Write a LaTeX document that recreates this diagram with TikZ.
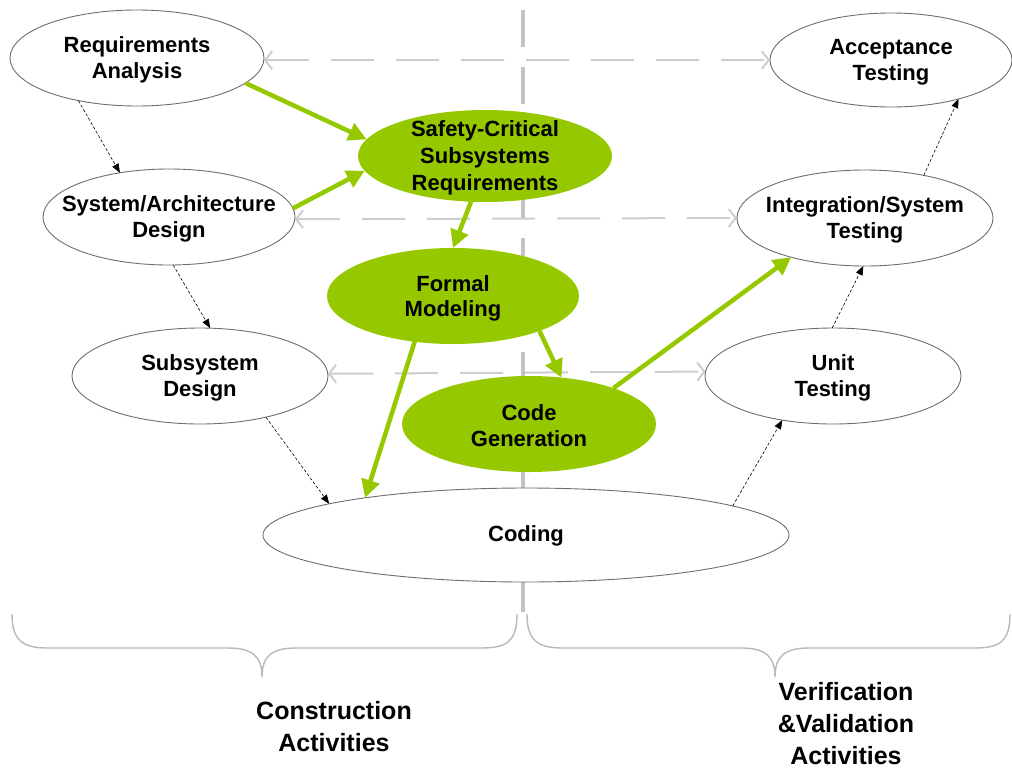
\documentclass[tikz,border=0pt]{standalone}
\usepackage{fontspec}
\setmainfont{Liberation Sans}
\usetikzlibrary{arrows.meta,shapes.geometric}
\definecolor{lgreen}{RGB}{150,200,0}
\definecolor{vgray}{RGB}{195,195,195}
\definecolor{hgray}{RGB}{205,205,205}
\definecolor{egray}{RGB}{110,110,110}
\definecolor{bgray}{RGB}{185,185,185}
\pgfdeclarelayer{bg}
\pgfsetlayers{bg,main}
\begin{document}
\begin{tikzpicture}[x=1pt,y=-1pt,
  wnode/.style={ellipse, draw=egray, line width=0.9pt, fill=white, inner sep=0pt, outer sep=0pt},
  gnode/.style={ellipse, fill=lgreen, inner sep=0pt, outer sep=0pt},
  lab/.style={font=\fontsize{22}{26}\selectfont\bfseries, align=center, text=black, inner sep=0pt},
  glab/.style={lab, font=\fontsize{22}{27}\selectfont\bfseries},
  flab/.style={lab, font=\fontsize{22}{25}\selectfont\bfseries},
  biglab/.style={font=\fontsize{25}{32}\selectfont\bfseries, align=center, inner sep=0pt},
  garrow/.style={draw=lgreen, line width=4.5pt, -{Triangle[length=18pt,width=18pt]}},
  darrow/.style={draw=black, line width=0.6pt, dash pattern=on 3pt off 2pt, -{Triangle[length=9pt,width=7pt]}},
  harrow/.style={draw=hgray, line width=2pt, dash pattern=on 43pt off 22pt, {Straight Barb[length=7pt,width=18pt]}-{Straight Barb[length=7pt,width=18pt]}},
  divline/.style={draw=vgray, line width=4pt, dash pattern=on 37pt off 20pt},
  bracel/.style={draw=bgray, line width=1.4pt}
]
\useasboundingbox (0,0) rectangle (1012,769);

% ellipses
\node[wnode, minimum width=254pt, minimum height=96pt] (ra) at (137,58) {};
\node[wnode, minimum width=242pt, minimum height=94pt] (at) at (891,60) {};
\node[gnode, minimum width=254pt, minimum height=92pt] (sc) at (485,156) {};
\node[wnode, minimum width=252pt, minimum height=96pt] (sa) at (169,217) {};
\node[wnode, minimum width=256pt, minimum height=96pt] (it) at (865,218) {};
\node[gnode, minimum width=252pt, minimum height=96pt] (fm) at (453,296) {};
\node[wnode, minimum width=256pt, minimum height=96pt] (sd) at (200,376) {};
\node[wnode, minimum width=256pt, minimum height=96pt] (ut) at (833,376) {};
\node[gnode, minimum width=254pt, minimum height=96pt] (cg) at (529,424) {};
\node[wnode, minimum width=526pt, minimum height=94pt] (co) at (526,535) {};

% texts
\node[lab] (ra-t) at ([yshift=-2pt]ra.center) {Requirements\\Analysis};
\node[lab] (at-t) at ([yshift=-2pt]at.center) {Acceptance\\Testing};
\node[glab] (sc-t) at ([yshift=-2pt]sc.center) {Safety-Critical\\Subsystems\\Requirements};
\node[lab] (sa-t) at ([yshift=-2pt]sa.center) {System/Architecture\\Design};
\node[lab] (it-t) at ([yshift=-2pt]it.center) {Integration/System\\Testing};
\node[flab] (fm-t) at ([yshift=-2pt]fm.center) {Formal\\Modeling};
\node[lab] (sd-t) at ([yshift=-2pt]sd.center) {Subsystem\\Design};
\node[lab] (ut-t) at ([yshift=-2pt]ut.center) {Unit\\Testing};
\node[lab] (cg-t) at ([yshift=-2pt]cg.center) {Code\\Generation};
\node[lab] (co-t) at ([yshift=-1pt]co.center) {Coding};

% background lines
\begin{pgfonlayer}{bg}
\draw[divline] (523,10) -- (523,612);
\draw[harrow] (ra.-1.8) -- (at.180.9);
\draw[harrow] (sa.-1.4) -- (it.180.9);
\draw[harrow] (sd.1.8) -- (ut.178.2);
\end{pgfonlayer}

% green arrows
\draw[garrow] (ra.-13.5) -- (sc.172.9);
\draw[garrow] (sa.4.1) -- (sc.187.9);
\draw[garrow] (sc.-107.7) -- (fm.90);
\draw[garrow] (fm.-130.4) -- (co.167.9);
\draw[garrow] (fm.-22) -- (cg.55.2);
\draw[garrow] (cg.23.8) -- (it.-152.9);

% black dashed arrows
\draw[darrow] (ra.-144.6) -- (sa.138.6);
\draw[darrow] (sa.-85.4) -- (sd.78.2);
\draw[darrow] (sd.-32.9) -- (co.171.7);
\draw[darrow] (co.8.3) -- (ut.-139.2);
\draw[darrow] (ut.91) -- (it.-92);
\draw[darrow] (it.36.6) -- (at.-30.8);

% braces
\draw[bracel] (12,614) .. controls (12,640) and (22,648) .. (48,648) -- (228,648)
  .. controls (252,648) and (262,656) .. (262,677)
  .. controls (262,656) and (272,648) .. (296,648) -- (482,648)
  .. controls (508,648) and (517,640) .. (517,614);
\draw[bracel] (527,614) .. controls (527,640) and (537,648) .. (563,648) -- (741,648)
  .. controls (765,648) and (775,656) .. (775,677)
  .. controls (775,656) and (785,648) .. (809,648) -- (975,648)
  .. controls (1001,648) and (1010,640) .. (1010,614);

\node[biglab] (cons) at (334,727) {Construction\\Activities};
\node[biglab] (vv) at (846,724) {Verification\\\&Validation\\Activities};
\end{tikzpicture}
\end{document}
